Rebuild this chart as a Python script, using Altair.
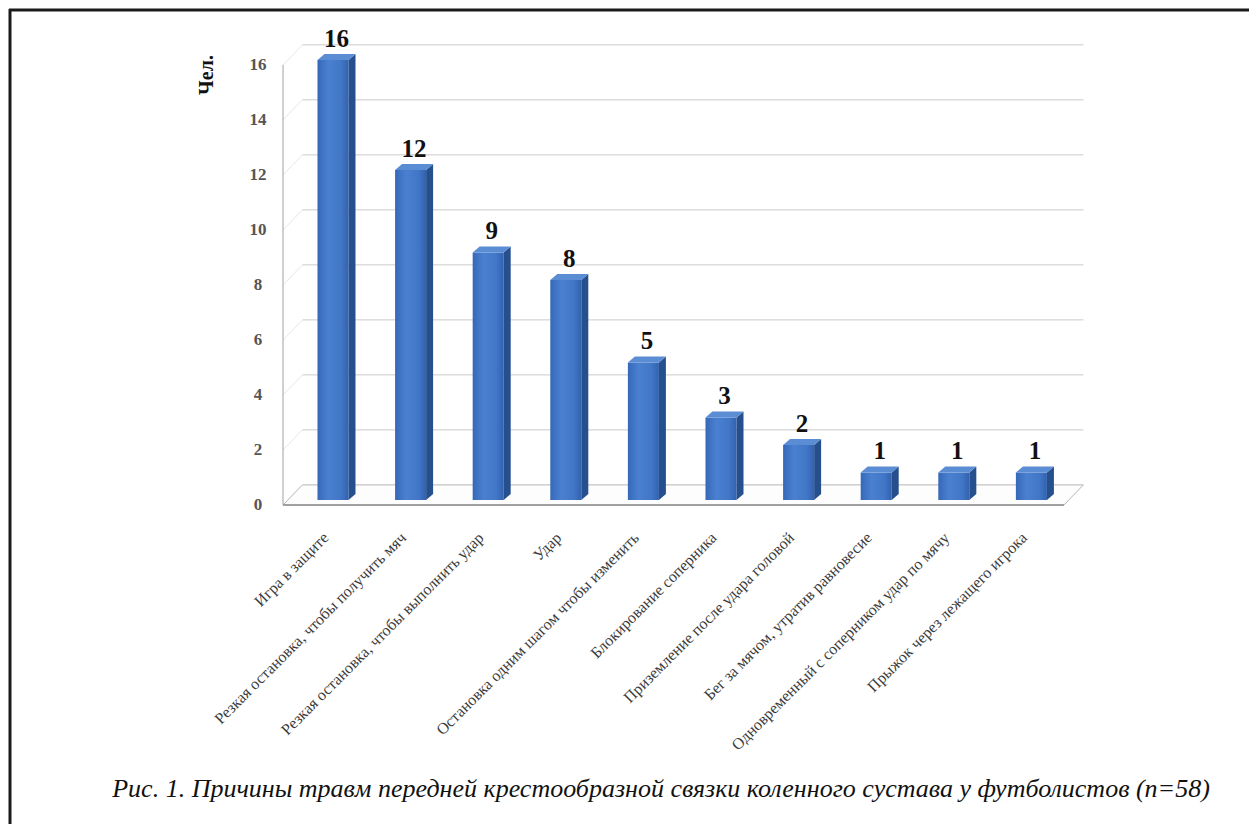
import altair as alt
import pandas as pd

# ---- data ----
categories = [
    "Игра в защите",
    "Резкая остановка, чтобы получить мяч",
    "Резкая остановка, чтобы выполнить удар",
    "Удар",
    "Остановка одним шагом чтобы изменить",
    "Блокирование соперника",
    "Приземление после удара головой",
    "Бег за мячом, утратив равновесие",
    "Одновременный с соперником удар по мячу",
    "Прыжок через лежащего игрока",
]
values = [16, 12, 9, 8, 5, 3, 2, 1, 1, 1]
y_ticks = [0, 2, 4, 6, 8, 10, 12, 14, 16]
y_title = "Чел."
caption = "Рис. 1. Причины травм передней крестообразной связки коленного сустава у футболистов (n=58)"

# ---- geometry / style constants (pseudo-3D look) ----
W, H = 1241, 816
XDOM = [-4.188, 11.804]
YDOM = [-11.6, 18.07]
HW = 0.2        # half bar width (x units)
BZ = 0.18       # bar base plane above the front floor edge (y units)
SDX, SDY = 0.09, 0.22   # bar depth
XL, XR = -0.644, 9.42   # floor front edge extent
DX, DYB = 0.25, 0.73    # wall depth
SERIF = "Liberation Serif"

xs = alt.Scale(domain=XDOM, nice=False, zero=False)
ys = alt.Scale(domain=YDOM, nice=False, zero=False)

def X(f, **kw):
    return alt.X(f, type="quantitative", scale=xs, axis=None, **kw)

def Y(f, **kw):
    return alt.Y(f, type="quantitative", scale=ys, axis=None, **kw)

bars = pd.DataFrame({"idx": range(len(values)), "value": values, "cat": categories})
bars["x1"] = bars.idx - HW
bars["x2"] = bars.idx + HW
bars["y1"] = BZ
bars["y2"] = bars.value + BZ
bars["lx"] = bars.idx + SDX / 2
bars["ly"] = bars.value + BZ + SDY
bars["cx"] = bars.idx - 0.09
bars["cy"] = -1.1

side_rows, top_rows = [], []
for i, v in enumerate(values):
    side_rows.append({"idx": i, "x": i + HW, "yu": v + BZ, "yl": BZ})
    side_rows.append({"idx": i, "x": i + HW + SDX, "yu": v + BZ + SDY, "yl": BZ + SDY})
    top_rows.append({"idx": i, "y": v + BZ, "xa": i - HW, "xb": i + HW})
    top_rows.append({"idx": i, "y": v + BZ + SDY, "xa": i - HW + SDX, "xb": i + HW + SDX})
side = pd.DataFrame(side_rows)
top = pd.DataFrame(top_rows)

floor = pd.DataFrame({"y": [0, DYB], "xa": [XL, XL + DX], "xb": [XR, XR + DX]})
ticks = pd.DataFrame({"v": y_ticks})
ticks["yb"] = ticks.v + DYB
ticks["xl"] = XL
ticks["xlb"] = XL + DX
ticks["xrb"] = XR + DX
ticks["tx"] = -0.966
grid = ticks[ticks.v > 0]

base = alt.Chart(bars)

floor_layer = alt.Chart(floor).mark_area(
    orient="horizontal", color="#fdfdfd", stroke="#b5b5b5", strokeWidth=1
).encode(y=Y("y"), x=X("xa"), x2="xb")

front_edge = alt.Chart(floor.iloc[[0]]).mark_rule(color="#8c8c8c", strokeWidth=1.5).encode(
    x=X("xa"), x2="xb", y=Y("y"))

grid_layer = alt.Chart(grid).mark_rule(color="#cacaca", strokeWidth=1).encode(
    x=X("xlb"), x2="xrb", y=Y("yb"))

wall_diag = alt.Chart(grid).mark_rule(color="#e6e6e6", strokeWidth=1).encode(
    x=X("xl"), x2="xlb", y=Y("v"), y2="yb")

wall_line = alt.Chart(pd.DataFrame({"x": [XL], "y": [0], "y2": [16]})).mark_rule(
    color="#a0a0a0", strokeWidth=1).encode(x=X("x"), y=Y("y"), y2="y2")

tick_labels = alt.Chart(ticks).mark_text(
    font=SERIF, fontSize=17, fontWeight="bold", color="#555555", align="center", baseline="middle"
).encode(x=X("tx"), y=Y("v"), text=alt.Text("v:Q"))

front = base.mark_rect(
    color=alt.Gradient(
        gradient="linear", x1=0, x2=1, y1=0, y2=0,
        stops=[alt.GradientStop(color="#3768b8", offset=0),
               alt.GradientStop(color="#4a80d0", offset=0.35),
               alt.GradientStop(color="#4277c8", offset=0.75),
               alt.GradientStop(color="#3262ae", offset=1)])
).encode(x=X("x1"), x2="x2", y=Y("y1"), y2="y2")

side_layer = alt.Chart(side).mark_area(color="#264f8e").encode(
    x=X("x"), y=Y("yu"), y2="yl", detail="idx:N")

top_layer = alt.Chart(top).mark_area(orient="horizontal", color="#5b8dd5").encode(
    y=Y("y"), x=X("xa"), x2="xb", detail="idx:N")

value_labels = base.mark_text(
    font=SERIF, fontSize=25, fontWeight="bold", color="#111111", baseline="alphabetic", dy=-7
).encode(x=X("lx"), y=Y("ly"), text=alt.Text("value:Q"))

cat_labels = base.mark_text(
    font=SERIF, fontSize=16, color="#3a3a3a", angle=315, align="right", baseline="middle"
).encode(x=X("cx"), y=Y("cy"), text="cat:N")

y_title_layer = alt.Chart(pd.DataFrame({"t": [y_title]})).mark_text(
    font=SERIF, fontSize=20, fontWeight="bold", color="#111111", angle=270,
    align="center", baseline="middle"
).encode(x=alt.value(199), y=alt.value(67), text="t:N")

caption_layer = alt.Chart(pd.DataFrame({"t": [caption]})).mark_text(
    font=SERIF, fontSize=26, fontStyle="italic", color="#111111", align="center", baseline="middle"
).encode(x=alt.value(653), y=alt.value(781), text="t:N")

frame_top = alt.Chart(pd.DataFrame({"a": [0]})).mark_rule(color="#1a1a1a", strokeWidth=3).encode(
    x=alt.value(1), x2=alt.value(W), y=alt.value(2))
frame_left = alt.Chart(pd.DataFrame({"a": [0]})).mark_rule(color="#1a1a1a", strokeWidth=3).encode(
    x=alt.value(2), y=alt.value(1), y2=alt.value(H))

chart = alt.layer(
    floor_layer, front_edge, grid_layer, wall_diag, wall_line, tick_labels,
    front, side_layer, top_layer, value_labels, cat_labels,
    y_title_layer, caption_layer, frame_top, frame_left,
).properties(
    width=W, height=H, padding=0, autosize=alt.AutoSizeParams(type="none"),
    background="white"
).configure_view(stroke=None)

chart.save("out.html", embed_options={"renderer": "svg", "actions": False})
